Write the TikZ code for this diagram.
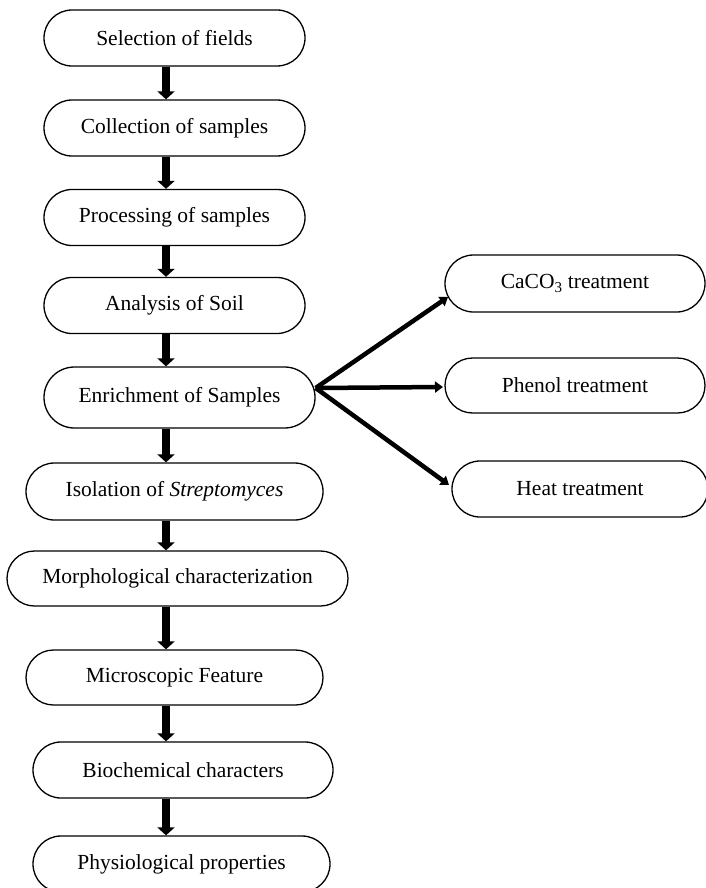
\documentclass[tikz,border=0pt]{standalone}
\usepackage{fontspec}
\setmainfont{Liberation Serif}
\usetikzlibrary{shapes.misc,arrows.meta}
\begin{document}
\begin{tikzpicture}[x=1pt,y=-1pt,
  pill/.style={rounded rectangle, draw, line width=1.3pt, inner sep=0pt,
    font=\fontsize{21.5}{26}\selectfont, minimum height=56pt},
  varrow/.style={line width=8pt, -{Triangle[width=17pt,length=8pt]}},
  darrow/.style={line width=4.5pt, -{Triangle[width=11pt,length=8pt]}}]
\useasboundingbox (0,0) rectangle (706,888);
\node[pill, minimum width=261pt] (n1) at (174.5,38) {Selection of fields};
\node[pill, minimum width=261pt] (n2) at (174.5,128) {Collection of samples};
\node[pill, minimum width=261pt] (n3) at (174.5,217.5) {Processing of samples};
\node[pill, minimum width=261pt] (n4) at (174.5,305.5) {Analysis of Soil};
\node[pill, minimum width=271pt, minimum height=61pt] (n5) at (179.5,397.5) {Enrichment of Samples};
\node[pill, minimum width=297pt, minimum height=57pt] (n6) at (174.5,491.5) {Isolation of \textit{Streptomyces}};
\node[pill, minimum width=341pt, minimum height=55pt] (n7) at (177.5,578.5) {Morphological characterization};
\node[pill, minimum width=297pt, minimum height=55pt] (n8) at (174.5,677.5) {Microscopic Feature};
\node[pill, minimum width=300pt] (n9) at (183,770) {Biochemical characters};
\node[pill, minimum width=297pt] (n10) at (181.5,864) {Physiological properties};
\node[pill, minimum width=260pt, minimum height=57pt] (c1) at (575,283.5) {CaCO\textsubscript{3} treatment};
\node[pill, minimum width=260pt, minimum height=55pt] (c2) at (575,385.5) {Phenol treatment};
\node[pill, minimum width=256pt] (c3) at (580,489) {Heat treatment};
\coordinate (ax) at (166,0);
\foreach \a/\b in {n1/n2,n2/n3,n3/n4,n4/n5,n5/n6,n6/n7,n7/n8,n8/n9,n9/n10}
  \draw[varrow] (\a.south -| ax) -- (\b.north -| ax);
\coordinate (e5) at (316,388);
\coordinate (t1) at (448,297);
\coordinate (t2) at (443,387);
\coordinate (t3) at (449,485);
\draw[darrow] (n5.east |- e5) -- (t1);
\draw[darrow] (n5.east |- e5) -- (t2);
\draw[darrow] (n5.east |- e5) -- (t3);
\end{tikzpicture}
\end{document}
